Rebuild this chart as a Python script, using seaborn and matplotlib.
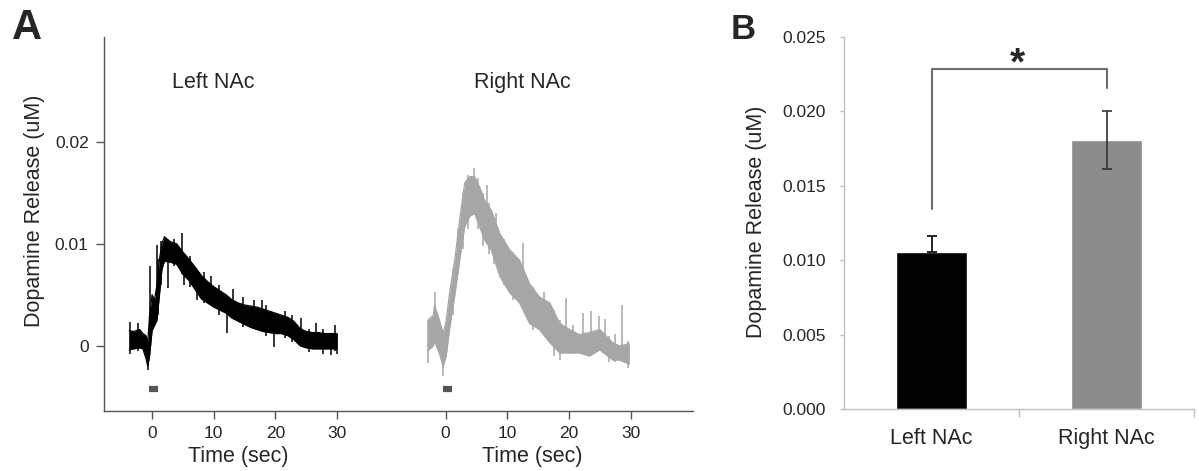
import matplotlib
matplotlib.use("Agg")
import matplotlib.pyplot as plt
import seaborn as sns
import pandas as pd
from matplotlib.ticker import FormatStrFormatter

sns.set_theme(style="white")
plt.rcParams["font.family"] = ["Liberation Sans", "DejaVu Sans"]

# ---------------- Panel A data ----------------
left_t = [-3.7, -3.0, -2.0, -1.5, -1.0, -0.7, -0.4, 0.0, 0.4, 0.8, 1.2, 1.6, 2.0,
          3.0, 4.0, 5.0, 6.0, 7.0, 8.0, 9.0, 10, 11, 12, 13, 14, 15, 16, 17, 18, 19,
          20, 21, 22, 23, 24, 25, 26, 27, 28, 29, 30]
left_lo = [-0.0004, -0.0003, -0.0002, -0.0003, -0.0012, -0.0020, -0.0010, 0.0015, 0.0020,
           0.0025, 0.0050, 0.0075, 0.0083, 0.0082, 0.0080, 0.0070, 0.0064, 0.0055, 0.0046,
           0.0042, 0.0038, 0.0035, 0.0032, 0.0027, 0.0024, 0.0021, 0.0018, 0.0016, 0.0014,
           0.0013, 0.0012, 0.0012, 0.0010, 0.0006, 0.0000, -0.0002, -0.0003, -0.0003,
           -0.0003, -0.0003, -0.0003]
left_hi = [0.0015, 0.0014, 0.0016, 0.0012, 0.0010, 0.0003, 0.0030, 0.0050, 0.0045, 0.0060,
           0.0085, 0.0100, 0.0107, 0.0102, 0.0100, 0.0092, 0.0085, 0.0077, 0.0069, 0.0063,
           0.0058, 0.0054, 0.0050, 0.0045, 0.0042, 0.0040, 0.0039, 0.0038, 0.0036, 0.0034,
           0.0032, 0.0030, 0.0028, 0.0024, 0.0017, 0.0014, 0.0013, 0.0013, 0.0012, 0.0012,
           0.0012]
left_spike_t = [-3.5, -2.3, -0.6, -0.35, 0.75, 1.0, 1.5, 2.6, 3.5, 4.8, 5.2, 6.2, 7.3, 8.5,
                9.5, 10.8, 12.1, 13.2, 14.7, 16.6, 17.8, 18.5, 19.7, 21.5, 22.7, 24.2, 25.5,
                26.6, 27.8, 29.0, 29.6, 30.0]
left_spike_lo = [-0.0008, -0.0005, -0.0024, 0.0010, 0.0030, 0.0030, 0.0060, 0.0057, 0.0078,
                 0.0070, 0.0060, 0.0058, 0.0045, 0.0042, 0.0040, 0.0030, 0.0013, 0.0030,
                 0.0018, 0.0020, 0.0020, 0.0010, -0.0001, 0.0008, 0.0004, 0.0005, -0.0006,
                 0.0000, -0.0008, -0.0009, -0.0005, -0.0008]
left_spike_hi = [0.0023, 0.0022, 0.0005, 0.0078, 0.0099, 0.0085, 0.0103, 0.0100, 0.0105,
                 0.0111, 0.0090, 0.0088, 0.0075, 0.0072, 0.0068, 0.0060, 0.0048, 0.0056,
                 0.0048, 0.0045, 0.0045, 0.0040, 0.0030, 0.0034, 0.0030, 0.0027, 0.0016,
                 0.0022, 0.0016, 0.0012, 0.0020, 0.0012]

right_t = [-2.9, -2.0, -1.8, -1.0, -0.4, 0.1, 0.6, 1.5, 2.3, 3.1, 3.9, 4.7, 5.5, 6.3, 7.4,
           8.8, 10.4, 12.0, 13.6, 15.2, 16.9, 18.5, 20.1, 21.7, 23.3, 25.0, 27.1, 28.2, 29.8]
right_lo = [-0.0005, 0.0000, 0.0005, -0.0008, -0.0020, -0.0010, 0.0015, 0.0050, 0.0085,
            0.0117, 0.0127, 0.0130, 0.0117, 0.0104, 0.0094, 0.0068, 0.0052, 0.0042, 0.0022,
            0.0016, 0.0003, -0.0007, -0.0007, -0.0007, -0.0010, -0.0004, -0.0014, -0.0014,
            -0.0018]
right_hi = [0.0025, 0.0030, 0.0040, 0.0025, 0.0012, 0.0025, 0.0050, 0.0085, 0.0125, 0.0160,
            0.0166, 0.0166, 0.0156, 0.0143, 0.0133, 0.0110, 0.0094, 0.0084, 0.0061, 0.0048,
            0.0042, 0.0022, 0.0016, 0.0011, 0.0013, 0.0016, 0.0003, 0.0000, 0.0002]
right_spike_t = [-2.9, -1.8, -0.4, 1.2, 2.0, 2.8, 3.6, 4.6, 5.2, 6.0, 6.75, 7.0, 7.8, 8.2,
                 9.5, 11.0, 12.6, 14.2, 15.9, 17.5, 18.6, 19.6, 20.6, 22.3, 23.6, 24.9, 25.8,
                 26.5, 27.5, 28.6, 29.6]
right_spike_lo = [-0.0017, 0.0010, -0.0030, 0.0030, 0.0070, 0.0095, 0.0115, 0.0130, 0.0115,
                  0.0098, 0.0110, 0.0090, 0.0080, 0.0090, 0.0060, 0.0045, 0.0055, 0.0015,
                  0.0020, -0.0010, -0.0014, 0.0000, -0.0008, -0.0005, -0.0005, -0.0003,
                  -0.0003, -0.0016, -0.0016, -0.0008, -0.0022]
right_spike_hi = [0.0025, 0.0053, 0.0010, 0.0075, 0.0115, 0.0150, 0.0168, 0.0174, 0.0165,
                  0.0150, 0.0158, 0.0140, 0.0125, 0.0130, 0.0105, 0.0092, 0.0101, 0.0058,
                  0.0053, 0.0035, 0.0025, 0.0047, 0.0020, 0.0032, 0.0034, 0.0029, 0.0026,
                  0.0010, 0.0012, 0.0040, 0.0005]

stim_start, stim_end, stim_y = -0.5, 1.0, -0.0042
time_ticks = [0, 10, 20, 30]
trace_titles = ["Left NAc", "Right NAc"]

# ---------------- Panel B data ----------------
regions = ["Left NAc", "Right NAc"]
means = [0.01055, 0.01808]
sems = [0.00108, 0.00195]
bracket_top = 0.02285
bracket_left_bottom = 0.01344
bracket_right_bottom = 0.02157

# ---------------- Figure ----------------
fig = plt.figure(figsize=(11.99, 4.71), dpi=100)
axA = fig.add_axes([0.0867, 0.1274, 0.4912, 0.794])
axB = fig.add_axes([0.704, 0.1316, 0.2919, 0.7898])

R = 47.6  # horizontal offset of the right-hemisphere trace
axis_grey = "#555555"

def draw_trace(ax, t, lo, hi, st, slo, shi, offset, color):
    x = [v + offset for v in t]
    ax.fill_between(x, lo, hi, color=color, lw=0)
    sns.lineplot(x=x, y=lo, ax=ax, color=color, lw=0.9, estimator=None, sort=False)
    sns.lineplot(x=x, y=hi, ax=ax, color=color, lw=0.9, estimator=None, sort=False)
    ax.vlines([v + offset for v in st], slo, shi, color=color, lw=1.1)
    ax.hlines(stim_y, stim_start + offset, stim_end + offset, color="#555555", lw=4.5)

draw_trace(axA, left_t, left_lo, left_hi, left_spike_t, left_spike_lo, left_spike_hi, 0, "black")
draw_trace(axA, right_t, right_lo, right_hi, right_spike_t, right_spike_lo, right_spike_hi, R, "#a6a6a6")

axA.set_xlim(-7.8, 87.7)
axA.set_ylim(-0.0064, 0.0303)
for s in ["top", "right"]:
    axA.spines[s].set_visible(False)
for s in ["left", "bottom"]:
    axA.spines[s].set_color(axis_grey)
    axA.spines[s].set_linewidth(1.0)
axA.set_yticks([0, 0.01, 0.02])
axA.set_yticklabels(["0", "0.01", "0.02"])
axA.set_xticks(time_ticks + [v + R for v in time_ticks])
axA.set_xticklabels([str(v) for v in time_ticks] * 2)
axA.tick_params(axis="both", direction="out", length=6, width=1, color=axis_grey,
                labelsize=12.5, pad=5, left=True, bottom=True)
axA.text(10.0, 0.0258, trace_titles[0], ha="center", va="center", fontsize=15.5)
axA.text(12.5 + R, 0.0258, trace_titles[1], ha="center", va="center", fontsize=15.5)

# x-axis titles (one under each trace)
for off in [0, R]:
    xf = axA.transData.transform((14.0 + off, 0))[0]
    xf = fig.transFigure.inverted().transform((xf, 0))[0]
    fig.text(xf, 0.030, "Time (sec)", ha="center", va="center", fontsize=15.5)

fig.text(0.0284, 0.552, "Dopamine Release (uM)", rotation=90, ha="center", va="center",
         fontsize=15.5)
fig.text(0.0225, 0.94, "A", ha="center", va="center", fontsize=30, fontweight="bold")

# ---------------- Panel B ----------------
df = pd.DataFrame({"region": regions, "value": means})
sns.barplot(data=df, x="region", y="value", hue="region", palette=["black", "#8c8c8c"],
            width=0.405, errorbar=None, legend=False, ax=axB, saturation=1)
axB.errorbar([0], [means[0]], yerr=[[0], [sems[0]]], fmt="none", ecolor="black",
             elinewidth=1.2, capsize=3.5, capthick=1.2)
axB.errorbar([1], [means[1]], yerr=[sems[1]], fmt="none", ecolor="#333333",
             elinewidth=1.2, capsize=3.5, capthick=1.2)

axB.plot([0, 0, 1, 1], [bracket_left_bottom, bracket_top, bracket_top, bracket_right_bottom],
         color="#6e6e6e", lw=1.5)
axB.text(0.49, 0.02315, "*", ha="center", va="center", fontsize=28, fontweight="bold")

axB.set_xlim(-0.5, 1.5)
axB.set_ylim(0, 0.025)
axB.set_yticks([0, 0.005, 0.01, 0.015, 0.02, 0.025])
axB.yaxis.set_major_formatter(FormatStrFormatter("%.3f"))
for s in ["top", "right"]:
    axB.spines[s].set_visible(False)
for s in ["left", "bottom"]:
    axB.spines[s].set_color("#bfbfbf")
    axB.spines[s].set_linewidth(1.0)
axB.tick_params(axis="y", direction="out", length=3, width=1, color="#bfbfbf",
                labelsize=12.5, pad=10, left=True)
axB.tick_params(axis="x", which="major", length=0, labelsize=15.5, pad=14)
axB.set_xticks([0.5, 1.5], minor=True)
axB.tick_params(axis="x", which="minor", direction="out", length=6, width=1,
                color="#bfbfbf", bottom=True)
axB.set_xlabel("")
axB.set_ylabel("")
fig.text(0.631, 0.528, "Dopamine Release (uM)", rotation=90, ha="center", va="center",
         fontsize=15.5)
fig.text(0.620, 0.938, "B", ha="center", va="center", fontsize=25, fontweight="bold")

fig.savefig("out.png", dpi=100)
